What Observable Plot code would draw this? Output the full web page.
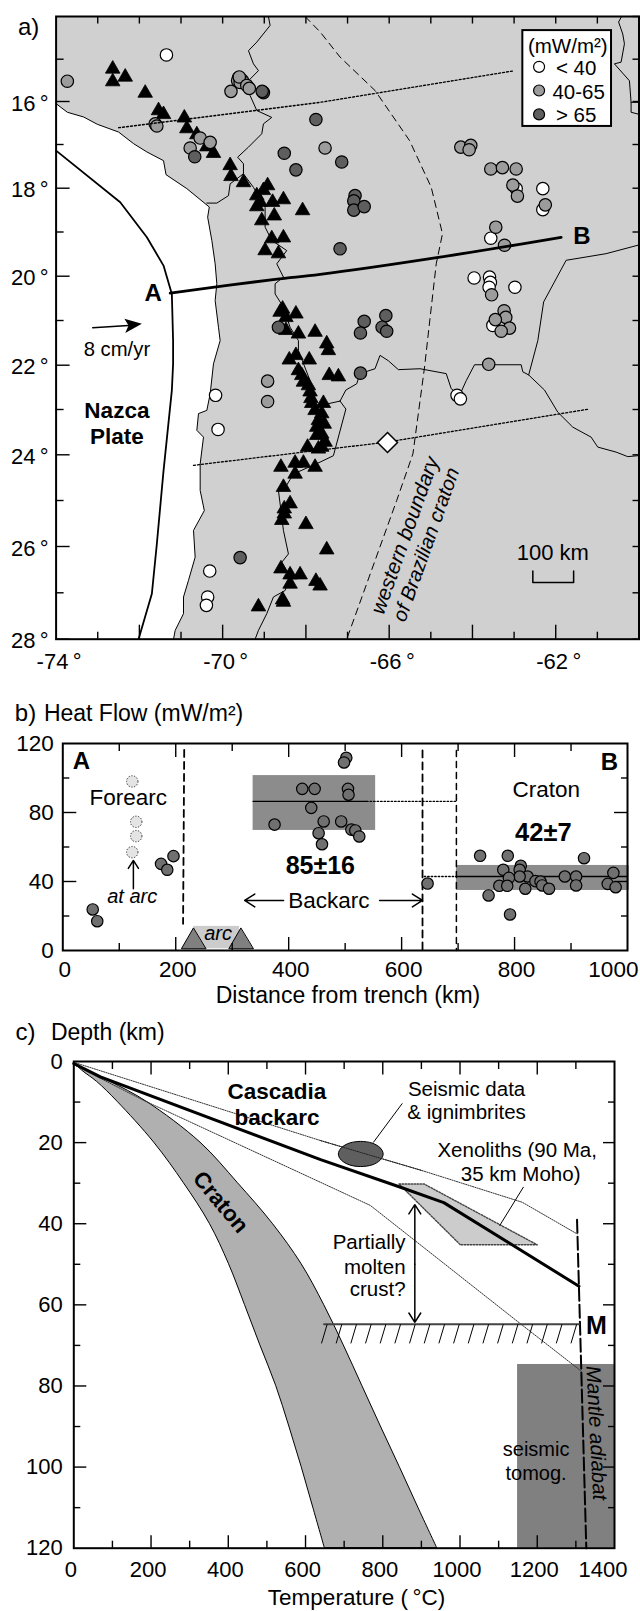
<!DOCTYPE html>
<html><head><meta charset="utf-8">
<script src="https://cdn.jsdelivr.net/npm/d3@7"></script>
<script src="https://cdn.jsdelivr.net/npm/@observablehq/plot@0.6"></script>
<style>html,body{margin:0;padding:0;background:#fff}svg{display:block}</style>
</head><body><div id="chart"></div>
<script>
// ---------- Panel a data (lon, lat) ----------
const latTicks=[14,15,16,17,18,19,20,21,22,23,24,25,26,27,28];
const latPixels=[16,58.7,101,144,187.7,231.5,275.7,320,364.7,409,454.3,500,546,592.3,638.7];
const lonTicks=[-73,-72,-71,-70,-69,-68,-67,-66,-65,-64,-63,-62,-61];
const coast=[[-74,16.05],[-73.73,16.25],[-73.34,16.36],[-73.01,16.53],[-72.5,16.71],[-72.14,16.98],[-71.82,17.17],[-71.42,17.37],[-71.36,17.69],[-70.86,18.01],[-70.32,18.43],[-70.36,18.66],[-70.26,19.19],[-70.18,19.72],[-70.14,20.17],[-70.18,20.55],[-70.1,21.15],[-70.06,21.45],[-70.22,21.97],[-70.3,22.65],[-70.38,23.02],[-70.58,23.09],[-70.62,23.46],[-70.46,23.61],[-70.54,24.2],[-70.54,24.78],[-70.44,25.22],[-70.7,25.65],[-70.66,26.23],[-70.82,26.73],[-70.94,27.09],[-70.94,27.45],[-71.14,27.81],[-71.18,28]];
const seaCorner=[[-74,28]];
const trench=[[-74,17.14],[-72.46,18.32],[-71.82,19.12],[-71.42,19.76],[-71.22,20.4],[-71.19,21.45],[-71.19,21.97],[-71.22,22.57],[-71.42,24.35],[-71.58,25.94],[-71.7,27.02],[-72.02,28]];
const borderA=[[-68.9,14],[-68.86,14.21],[-69.18,14.6],[-69.38,14.8],[-69.26,15.11],[-69.14,15.27],[-69.38,15.51],[-69.34,15.86],[-69.18,16.21],[-68.82,16.37],[-69.02,16.52],[-69.06,16.75],[-69.38,17.06],[-69.64,17.29],[-69.5,17.44],[-69.5,17.67],[-69.26,17.98],[-68.98,18.44],[-68.98,18.89],[-68.82,19.19],[-68.46,19.42],[-68.7,19.72],[-68.54,20.02],[-68.74,20.17],[-68.74,20.4],[-68.54,20.7],[-68.38,21.15],[-68.18,21.45],[-68.18,21.67],[-67.9,22.35],[-67.74,22.95],[-67.66,22.91],[-67.18,22.81]];
const borderB=[[-67.18,22.81],[-67.04,22.99],[-67.34,24.02],[-67.66,24.16],[-68.3,24.42],[-68.54,24.78],[-68.66,24.78],[-68.58,25.36],[-68.54,25.65],[-68.42,26.16],[-68.58,26.34],[-68.38,26.66],[-68.5,26.95],[-68.78,27.09],[-68.94,27.45],[-69.14,27.81],[-69.22,28]];
const borderC=[[-67.18,22.81],[-67.04,22.56],[-66.78,22.42],[-66.7,22.19],[-66.34,22.08],[-66.22,21.78],[-66.02,21.9],[-65.78,22.1],[-65.26,22.08],[-64.63,22.19],[-64.51,22.53],[-64.31,22.68],[-64.15,22.35],[-63.95,21.99],[-62.83,21.99],[-62.79,22.15],[-62.65,22.22],[-62.27,22.56],[-61.95,23.06],[-61.59,23.39],[-61.15,23.61],[-60.99,23.83],[-60.55,23.94],[-60.27,24.04],[-60.03,24.02]];
const borderD=[[-62.65,22.22],[-62.43,21.45],[-62.29,20.58],[-61.75,19.64],[-60.79,19.49],[-60.03,19.3]];
const borderE=[[-60.43,14.02],[-60.49,14.13],[-60.39,14.41],[-60.35,14.64],[-60.43,15.07],[-60.59,15.11],[-60.23,15.51],[-60.19,16.02],[-60.19,16.25],[-60.03,16.29]];
const borderE2=[[-60.19,16.02],[-60.03,16.02]];
const borderF=[[-69.5,17.67],[-69.82,17.9],[-69.86,18.17],[-70.14,18.34],[-70.38,18.34]];
const cratonEdge=[[-68.02,14],[-67.66,14.36],[-67.18,14.95],[-66.34,15.74],[-65.51,16.91],[-64.99,17.98],[-64.72,19.04],[-64.87,19.72],[-65.07,21.37],[-65.15,22.04],[-65.43,23.98],[-65.82,25],[-67.02,28]];
const dottedNorth=[[-72.5,16.61],[-67.66,16.02],[-63.04,15.28]];
const dottedSouth=[[-70.7,24.23],[-66.06,23.72],[-61.2,22.99]];
const sectionAB=[[-71.26,20.38],[-68.74,20.07],[-67.66,19.96],[-64.78,19.57],[-61.87,19.12]];
const plateHead=[[-71.94,21.07],[-72.36,20.96],[-72.26,21.11],[-72.34,21.28]];
const plateTail=[[-73.12,21.16],[-72.26,21.11]];
const scaleBar=[[-62.55,26.53],[-62.55,26.78],[-61.57,26.78],[-61.57,26.53]];
const volcanoes=[[-72.64,15.23],[-72.64,15.53],[-72.34,15.42],[-71.86,15.8],[-71.54,16.21],[-71.42,16.3],[-70.92,16.38],[-70.86,16.63],[-70.62,16.77],[-70.38,17.05],[-70.22,17.2],[-69.82,17.48],[-69.8,17.73],[-69.5,17.87],[-68.92,17.94],[-69.02,18.05],[-69.18,18.17],[-69.1,18.32],[-69.18,18.42],[-68.8,18.32],[-68.54,18.26],[-68.08,18.51],[-68.76,18.63],[-69.06,18.74],[-68.82,19.15],[-68.54,19.13],[-68.98,19.42],[-68.66,19.49],[-68.56,20.74],[-68.62,20.81],[-68.24,20.85],[-68.48,20.93],[-68.48,21.22],[-68.18,21.3],[-67.78,21.26],[-68.4,21.88],[-68.24,21.78],[-67.92,21.88],[-68.18,22.12],[-68.1,22.23],[-68.06,22.38],[-67.94,22.46],[-67.9,22.6],[-67.88,22.75],[-67.86,22.86],[-67.78,23.02],[-67.7,23.24],[-67.74,23.39],[-67.74,23.57],[-67.96,23.83],[-67.7,23.87],[-68.6,24.27],[-68.26,24.18],[-68.06,24.18],[-68.26,24.42],[-67.78,24.27],[-68.54,24.71],[-68.38,25.07],[-68.52,25.18],[-68.52,25.29],[-68.58,25.43],[-68,25.52],[-68.6,26.48],[-68.38,26.61],[-68.14,26.61],[-68.38,26.81],[-67.76,26.75],[-69.14,27.3],[-68.56,27.15],[-68.54,27.2],[-67.5,21.52],[-67.46,21.67],[-67.44,22.23],[-67.22,22.26],[-67.58,22.86],[-67.62,23.09],[-67.56,23.32],[-67.62,23.54],[-67.54,23.72],[-67.62,23.83],[-67.5,26.07],[-67.66,26.85]];
const clusterBack=[[-69.62,15.44],[-69.64,15.51],[-69.58,15.55],[-69.6,15.42]];
const flowLow=[[-71.35,14.9],[-69.52,15.51],[-69.56,15.47],[-62.95,18.01],[-62.31,18.01],[-62.31,18.49],[-63.56,19.14],[-63.96,20.04],[-63.59,20.02],[-63.57,20.14],[-63.6,20.25],[-62.98,20.25],[-63.51,21.11],[-64.37,22.68],[-64.29,22.76],[-70.17,22.68],[-70.11,23.44],[-70.31,26.53],[-70.36,27.09],[-70.39,27.27]];
const flowMid=[[-73.73,15.52],[-69.42,15.62],[-69.36,15.69],[-69.8,15.76],[-71.62,16.52],[-71.58,16.57],[-70.54,16.85],[-70.3,16.95],[-70.78,17.08],[-67.54,17.08],[-64.28,17.06],[-64.04,17.02],[-64.08,17.12],[-63.56,17.56],[-63.28,17.53],[-62.95,17.56],[-63.03,17.93],[-62.92,18.18],[-62.25,18.38],[-63.44,18.89],[-63.23,19.3],[-63.54,20.42],[-63.24,20.78],[-63.2,20.93],[-63.45,20.98],[-63.11,21.17],[-63.31,21.24],[-63.61,21.98],[-68.92,22.36],[-68.92,22.82]];
const flowHigh=[[-69.02,15.79],[-69.05,15.76],[-70.67,17.28],[-67.76,16.42],[-68.52,17.2],[-68.24,17.58],[-68.66,21.15],[-67.14,17.4],[-66.82,18.17],[-66.85,18.29],[-66.85,18.5],[-66.6,18.42],[-67.18,19.38],[-66.6,21.02],[-66.08,20.89],[-66.17,21.15],[-66.06,21.24],[-66.69,21.28],[-66.69,22.18],[-69.58,26.24]];
const referencePoint=[[-66.04,23.73]];
const legendNames=["< 40","40-65","> 65"];

// ---------- Panel b data (km, mW/m2) ----------
const arcFlow=[[123,98],[130,74.6],[130,66.3],[123,57]];
const forearcFlow=[[53,23.8],[61,17],[174,50.2],[185,46.8],[196,54.7]];
const backarcFlow=[[375,73],[424,93.7],[446,93.7],[440,82.7],[462,74.8],[453,68],[459,61.6],[502,111.7],[498,109],[505,93.7],[506,90.3],[493,74.8],[511,70.1],[518,69.6],[525,66.1],[646,38.8]];
const cratonFlow=[[739,54.9],[788,54.9],[923,53.5],[811,49.1],[780,46.8],[809,46.8],[975,45],[889,42.9],[909,42.9],[823,42.9],[809,42.9],[790,42.1],[837,40.2],[846,40],[773,37.5],[787,37.5],[849,37.7],[909,37.7],[965,38.6],[979,36.7],[819,35.8],[861,35.8],[754,31.9],[792,20.9]];
const arcLeft=[[231,12.9],[210,1],[253,1]];
const arcRight=[[315,12.9],[294,1],[337,1]];

// ---------- Panel c data (deg C, km) ----------
const tempTicks=[0,100,200,300,400,500,600,700,800,900,1000,1100,1200,1300,1400];
const depthTicks=[0,10,20,30,40,50,60,70,80,90,100,110,120];
const bandDepth=[0.4,2.5,5,10,20,30,40,50,60,70,80,90,100,110,120];
const bandCold=[0,25,60,114,208,285,352,402,443,483,524,558,590,620,650];
const bandHot=[0,42,95,190,328,425,515,590,648,699,747,795,844,892,941];
const cascadia=[[0,0.5],[69,3.8],[639,24.2],[846,31],[958,34.8],[1308,55.4]];
const upperBound=[[0,0.2],[639,19.5],[902,26.9],[1161,34.7],[1303,42.5]];
const lowerBound=[[0,0.8],[181,9.6],[639,29.8],[768,35.5],[1113,61.4],[1157,64.7],[1312,76.2]];
const xenoliths=[[842,30.2],[907,30.2],[1200,45.2],[1001,45.2]];
const seismicBlob=[[801,22.8],[793,21.25],[772,20.1],[743,19.7],[714,20.1],[693,21.25],[685,22.8],[693,24.35],[714,25.5],[743,25.9],[772,25.5],[793,24.35]];
const adiabat=[[1303,39],[1327,120]];
const moho=[[648,64.8],[1308,64.8]];
const hachures=[656,694,732,770,808,846,884,922,960,998,1036,1074,1112,1150,1188,1226,1264,1302];
const tomography=[{x1:1149,x2:1400,y1:74.7,y2:120}];

// ---------- helpers ----------
const FONT="Liberation Sans";
const base={style:{fontFamily:FONT,background:"#fff",color:"#000"},width:640};
const fs=22.5;
const T=(text,x,y,o={})=>Plot.text([text],{x:()=>x,y:()=>y,text:d=>d,fontSize:fs,fill:"#000",...o});
const L=(d,o={})=>Plot.line(d,{stroke:"#000",strokeWidth:1,...o});
const A=(x1,y1,x2,y2,o={})=>Plot.arrow([0],{x1:()=>x1,y1:()=>y1,x2:()=>x2,y2:()=>y2,bend:0,stroke:"#000",strokeWidth:1.5,headLength:12,headAngle:65,...o});

// ---------- Panel a ----------
const dotStyle={stroke:"#000",strokeWidth:1.2};
const GREY="#9c9c9c",DARK="#5e5e5e";
const evenLat=latTicks.filter(v=>v%2===0&&v!==14), oddLat=latTicks.filter(v=>v%2!==0);
// the map's latitude spacing widens southward (Mercator-like):
const latSpacing=d3.scaleLinear(latTicks,latPixels);
const latAxisAt=a=>a.map(v=>latSpacing(v));
const panelA=Plot.plot({...base,height:680,marginTop:16,marginLeft:55.6,marginRight:1.5,marginBottom:41.3,
  x:{domain:[-74,-60],axis:null},
  y:{transform:d=>latSpacing(d),domain:[latPixels[14],latPixels[0]],axis:null},
  marks:[
    Plot.frame({fill:"#d0d0d0",stroke:null}),
    L(coast.concat(seaCorner,[[-74,16.05]]),{fill:"#fff",stroke:"none"}),
    L(coast),
    L(trench,{strokeWidth:1.8}),
    L(borderA),L(borderB),L(borderC),L(borderD),L(borderE),L(borderE2),L(borderF),
    L(cratonEdge,{strokeDasharray:"7,5"}),
    Plot.dot(volcanoes,{symbol:"triangle",r:5.4,fill:"#000",stroke:"#000",strokeWidth:0.8}),
    Plot.dot(flowLow,{r:6.2,fill:"#fff",...dotStyle}),
    Plot.dot(clusterBack,{r:6.2,fill:GREY,...dotStyle}),
    Plot.dot(flowMid,{r:6.2,fill:GREY,...dotStyle}),
    Plot.dot(flowHigh,{r:6.2,fill:DARK,...dotStyle}),
    L(dottedNorth,{strokeDasharray:"2,2",strokeWidth:1.3}),
    L(dottedSouth,{strokeDasharray:"2,2",strokeWidth:1.3}),
    L(sectionAB,{strokeWidth:2.8,curve:"catmull-rom"}),
    Plot.dot(referencePoint,{symbol:"diamond2",r:9,fill:"#fff",stroke:"#000",strokeWidth:1.5}),
    L(plateTail,{strokeWidth:1.5}),
    L(plateHead,{fill:"#000",stroke:"none"}),
    L(scaleBar,{strokeWidth:1.5}),
    // legend
    Plot.rect([0],{x1:()=>-62.79,x2:()=>-60.66,y1:()=>14.33,y2:()=>16.58,fill:"#fff",stroke:"#000",strokeWidth:2}),
    Plot.dot(legendNames,{x:()=>-62.4,y:(d,i)=>[15.18,15.74,16.3][i],r:5.5,fill:(d,i)=>["#fff",GREY,DARK][i],...dotStyle}),
    T("(mW/m²)",-61.71,14.69,{fontSize:20.5}),
    T(legendNames[0],-61.51,15.22,{fontSize:20.5}),
    T(legendNames[1],-61.45,15.78,{fontSize:20.5}),
    T(legendNames[2],-61.51,16.33,{fontSize:20.5}),
    // labels
    T("a)",-74.66,14.26,{fontSize:24}),
    T("A",-71.67,20.38,{fontSize:24,fontWeight:"bold"}),
    T("B",-61.37,19.09,{fontSize:24,fontWeight:"bold"}),
    T("8 cm/yr",-72.54,21.64,{fontSize:20.3}),
    T("Nazca",-72.54,23.02,{fontWeight:"bold"}),
    T("Plate",-72.54,23.6,{fontWeight:"bold"}),
    T("western boundary",-65.62,25.76,{fontSize:20.8,fontStyle:"italic",rotate:-70.3}),
    T("of Brazilian craton",-65.11,25.96,{fontSize:20.2,fontStyle:"italic",rotate:-70.3}),
    T("100 km",-62.07,26.14,{fontSize:22}),
    // ticks
    Plot.axisX({anchor:"top",ticks:lonTicks,tickSize:-6.5,text:null,label:null,strokeWidth:1.4}),
    Plot.axisX({anchor:"bottom",ticks:lonTicks.filter(v=>v%2!==0),tickSize:-7,text:null,label:null,strokeWidth:1.4}),
    Plot.axisX({anchor:"bottom",ticks:lonTicks.filter(v=>v%2===0),tickSize:-14,text:null,label:null,strokeWidth:1.4}),
    Plot.axisY({anchor:"left",ticks:latAxisAt(oddLat),tickSize:-8,text:null,label:null,strokeWidth:1.4}),
    Plot.axisY({anchor:"left",ticks:latAxisAt(evenLat),tickSize:-14,text:null,label:null,strokeWidth:1.4}),
    Plot.axisY({anchor:"right",ticks:latAxisAt(latTicks),tickSize:-7,text:null,label:null,strokeWidth:1.4}),
    Plot.axisX({anchor:"bottom",ticks:[-74,-70,-66,-62],tickSize:0,tickPadding:14,fontSize:22,dx:3,tickFormat:d=>d+"\u2009°",label:null}),
    Plot.axisY({anchor:"left",ticks:latAxisAt(evenLat),tickSize:0,tickPadding:7.5,fontSize:22,dy:2,tickFormat:d=>Math.round(latSpacing.invert(d))+"\u2009°",label:null}),
    Plot.frame({stroke:"#000",strokeWidth:2})
  ]});

// ---------- Panel b ----------
const PT="#707070";
const panelB=Plot.plot({...base,height:332,marginTop:63,marginBottom:62,marginLeft:62.3,marginRight:13,
  x:{domain:[0,1000],axis:null},
  y:{domain:[0,120],axis:null},
  marks:[
    Plot.rect([0],{x1:()=>337,x2:()=>554,y1:()=>69.6,y2:()=>101.4,fill:"#8c8c8c"}),
    Plot.rect([0],{x1:()=>697,x2:()=>1003,y1:()=>34.8,y2:()=>49.3,fill:"#8c8c8c"}),
    Plot.rect([0],{x1:()=>232,x2:()=>313,y1:()=>1,y2:()=>14,fill:"#cccccc"}),
    L(arcLeft,{fill:"#808080",curve:"linear-closed"}),
    L(arcRight,{fill:"#808080",curve:"linear-closed"}),
    L([[337,86.4],[538,86.4]],{strokeWidth:1.3}),
    L([[538,86.4],[697,86.4]],{strokeWidth:1.3,strokeDasharray:"1.5,2"}),
    L([[697,42.9],[1000,42.9]],{strokeWidth:1.3}),
    L([[640,42.9],[697,42.9]],{strokeWidth:1.3,strokeDasharray:"1.5,2"}),
    L([[215,116.3],[213,15.5]],{strokeWidth:1.8,strokeDasharray:"7,5"}),
    L([[637,116],[637,0]],{strokeWidth:1.8,strokeDasharray:"7,5"}),
    L([[697,116],[697,0]],{strokeWidth:1.5,strokeDasharray:"6,5"}),
    Plot.dot(arcFlow,{r:5.7,fill:"#e4e4e4",stroke:"#333",strokeWidth:1,strokeDasharray:"1.3,1.5"}),
    Plot.dot(forearcFlow.concat(backarcFlow,cratonFlow),{r:5.7,fill:PT,stroke:"#000",strokeWidth:1.2}),
    T("b)",-66,137.4,{fontSize:24}),
    T("Heat Flow (mW/m²)",143,137.4,{fontSize:23}),
    T("A",33,109.6,{fontSize:24,fontWeight:"bold"}),
    T("B",968,109.2,{fontSize:24,fontWeight:"bold"}),
    T("Forearc",116,88.5),
    T("Craton",856,93.2),
    T("85±16",456,48.9,{fontSize:25,fontWeight:"bold"}),
    T("42±7",851,68,{fontSize:25.5,fontWeight:"bold"}),
    T("Backarc",471,28.6),
    T("at arc",123,31.3,{fontSize:20,fontStyle:"italic"}),
    T("arc",275,9.7,{fontSize:20,fontStyle:"italic"}),
    A(391,29,322,29),A(561,29,637,29),
    A(125,35.8,125,52.2,{headLength:10}),
    T("Distance from trench (km)",505,-26.1,{fontSize:23}),
    Plot.axisX({anchor:"top",ticks:[100,300,500,700,900],tickSize:-7,text:null,label:null,strokeWidth:1.4}),
    Plot.axisX({anchor:"top",ticks:[200,400,600,800],tickSize:-13,text:null,label:null,strokeWidth:1.4}),
    Plot.axisX({anchor:"bottom",ticks:[100,300,500,700,900],tickSize:-7,text:null,label:null,strokeWidth:1.4}),
    Plot.axisX({anchor:"bottom",ticks:[200,400,600,800],tickSize:-13,text:null,label:null,strokeWidth:1.4}),
    Plot.axisY({anchor:"left",ticks:[20,60,100],tickSize:-7,text:null,label:null,strokeWidth:1.4}),
    Plot.axisY({anchor:"left",ticks:[40,80],tickSize:-14,text:null,label:null,strokeWidth:1.4}),
    Plot.axisY({anchor:"right",ticks:[20,60,100],tickSize:-7,text:null,label:null,strokeWidth:1.4}),
    Plot.axisY({anchor:"right",ticks:[40,80],tickSize:-14,text:null,label:null,strokeWidth:1.4}),
    Plot.axisX({anchor:"bottom",ticks:[0,200,400,600,800],tickSize:0,tickPadding:11,fontSize:22.5,dx:2,label:null,tickFormat:d=>String(d)}),
    T("1000",975,-11,{}),
    Plot.axisY({anchor:"left",ticks:[0,40,80,120],tickSize:0,tickPadding:9,fontSize:22.5,label:null}),
    Plot.frame({stroke:"#000",strokeWidth:2})
  ]});

// ---------- Panel c ----------
const panelC=Plot.plot({...base,height:599,marginTop:49,marginBottom:63.3,marginLeft:73.3,marginRight:26,
  x:{domain:[0,1400],axis:null},
  y:{domain:[120,0],axis:null},
  marks:[
    Plot.areaX(bandDepth,{y:d=>d,x1:(d,i)=>bandCold[i],x2:(d,i)=>bandHot[i],fill:"#b0b0b0",stroke:"#000",strokeWidth:1,curve:"catmull-rom"}),
    Plot.rect(tomography,{x1:"x1",x2:"x2",y1:"y1",y2:"y2",fill:"#808080"}),
    L(xenoliths,{fill:"#cccccc",stroke:"#444",strokeWidth:1.4,strokeDasharray:"1.5,1.5",curve:"linear-closed"}),
    L(upperBound,{stroke:"#333",strokeDasharray:"1.2,1.2"}),
    L(lowerBound,{stroke:"#333",strokeDasharray:"1.2,1.2"}),
    L(seismicBlob,{fill:"#5f5f5f",curve:"cardinal-closed"}),
    L(upperBound.slice(1,3),{stroke:"#222",strokeDasharray:"1.2,1.2"}),
    L(cascadia,{strokeWidth:3}),
    L(adiabat,{strokeWidth:2,strokeDasharray:"13,4"}),
    L(moho,{stroke:"#444",strokeWidth:2}),
    Plot.link(hachures,{x1:d=>d,y1:()=>64.8,x2:d=>d-14.7,y2:()=>69.5,stroke:"#000",strokeWidth:1}),
    A(883,50,883,35.3,{headLength:11}),A(883,50,883,64.3,{headLength:11}),
    L([[776,19.9],[850,10.4]]),
    L([[1103,40.4],[1164,31]]),
    T("c)",-125,-7.2,{fontSize:24}),
    T("Depth (km)",88,-7.2,{fontSize:23}),
    T("Cascadia",526,7.5,{fontWeight:"bold"}),
    T("backarc",526,14,{fontWeight:"bold"}),
    T("Craton",380,34.7,{fontWeight:"bold",rotate:50}),
    T("Seismic data",1017,7,{fontSize:20.5}),
    T("& ignimbrites",1017,12.65,{fontSize:20.5}),
    T("Xenoliths (90 Ma,",1148,21.9,{fontSize:20.5}),
    T("35 km Moho)",1157,27.9,{fontSize:20.5}),
    T("Partially",859,44.7,{fontSize:20.5,textAnchor:"end"}),
    T("molten",859,50.7,{fontSize:20.5,textAnchor:"end"}),
    T("crust?",859,56.3,{fontSize:20.5,textAnchor:"end"}),
    T("M",1353,65.3,{fontSize:25,fontWeight:"bold"}),
    T("Mantle adiabat",1353,91.6,{fontSize:20.5,fontStyle:"italic",rotate:87}),
    T("seismic",1197,95.6,{fontSize:20}),
    T("tomog.",1197,101.5,{fontSize:20}),
    T("Temperature (\u2009°C)",732,132.2,{fontSize:22.5}),
    Plot.axisX({anchor:"top",ticks:tempTicks.filter(v=>v%200!==0),tickSize:-7,text:null,label:null,strokeWidth:1.4}),
    Plot.axisX({anchor:"top",ticks:tempTicks.filter(v=>v%200===0&&v>0&&v<1400),tickSize:-12.5,text:null,label:null,strokeWidth:1.4}),
    Plot.axisX({anchor:"bottom",ticks:tempTicks.filter(v=>v%200!==0),tickSize:-7,text:null,label:null,strokeWidth:1.4}),
    Plot.axisX({anchor:"bottom",ticks:tempTicks.filter(v=>v%200===0&&v>0&&v<1400),tickSize:-12.5,text:null,label:null,strokeWidth:1.4}),
    Plot.axisY({anchor:"left",ticks:depthTicks.filter(v=>v%20!==0),tickSize:-7,text:null,label:null,strokeWidth:1.4}),
    Plot.axisY({anchor:"left",ticks:depthTicks.filter(v=>v%20===0&&v>0&&v<120),tickSize:-13,text:null,label:null,strokeWidth:1.4}),
    Plot.axisY({anchor:"right",ticks:depthTicks.filter(v=>v%20!==0),tickSize:-7,text:null,label:null,strokeWidth:1.4}),
    Plot.axisY({anchor:"right",ticks:depthTicks.filter(v=>v%20===0&&v>0&&v<120),tickSize:-12,text:null,label:null,strokeWidth:1.4}),
    Plot.axisX({anchor:"bottom",ticks:[0,200,400,600,800,1000,1200],tickSize:0,tickPadding:13.5,fontSize:22,dx:-3,label:null,tickFormat:d=>String(d)}),
    T("1400",1370,125.3,{fontSize:22}),
    Plot.axisY({anchor:"left",ticks:[0,20,40,60,80,100,120],tickSize:0,tickPadding:11,fontSize:22,label:null}),
    Plot.frame({stroke:"#000",strokeWidth:2})
  ]});

document.getElementById("chart").append(panelA,panelB,panelC);
</script>
</body></html>
